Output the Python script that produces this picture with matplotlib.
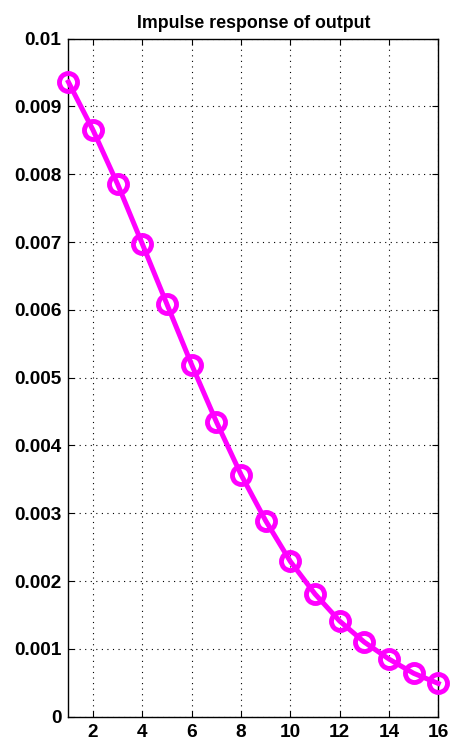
import matplotlib
matplotlib.use("Agg")
import matplotlib.pyplot as plt
import numpy as np

steps = list(range(1, 17))
response = [0.00936, 0.00865, 0.00785, 0.00697, 0.00608, 0.00519, 0.00435, 0.00357,
            0.00289, 0.00229, 0.00181, 0.00141, 0.00110, 0.00085, 0.00064, 0.00049]
xticks = [2, 4, 6, 8, 10, 12, 14, 16]
yticks = [0, 0.001, 0.002, 0.003, 0.004, 0.005, 0.006, 0.007, 0.008, 0.009, 0.01]
ytick_labels = ['0', '0.001', '0.002', '0.003', '0.004', '0.005', '0.006', '0.007', '0.008', '0.009', '0.01']

plt.rcParams['font.family'] = ['Liberation Sans', 'DejaVu Sans']
fig = plt.figure(figsize=(4.5, 7.43), dpi=100)
ax = fig.add_axes([0.152, 0.0354, 0.822, 0.9126])

ax.plot(steps, response, color='#ff00ff', lw=3.6, marker='o', markersize=13,
        markerfacecolor='none', markeredgewidth=3.5, clip_on=False, zorder=3)

ax.set_xlim(1, 16)
ax.set_ylim(0, 0.01)
ax.set_xticks(xticks)
ax.set_yticks(yticks)
ax.set_yticklabels(ytick_labels)
ax.grid(True, color='black', linestyle=(0, (1, 4)), lw=0.8)
ax.tick_params(direction='in', top=True, right=True, length=4, width=0.8,
               labelsize=13.7, pad=5)
for lab in ax.get_xticklabels() + ax.get_yticklabels():
    lab.set_fontweight('bold')
for s in ax.spines.values():
    s.set_linewidth(1.0)
ax.set_title('Impulse response of output', fontsize=12.8, fontweight='bold', pad=8)

fig.savefig('out.png', dpi=100)
